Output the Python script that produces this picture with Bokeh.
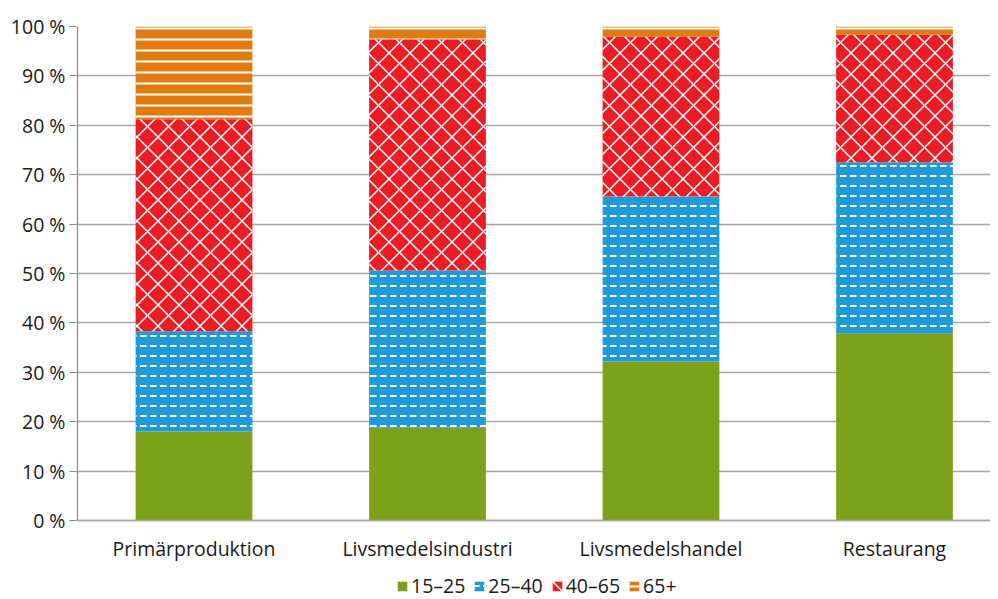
from bokeh.plotting import figure
from bokeh.models import ColumnDataSource, Range1d, FixedTicker, Legend, LegendItem, Span
from bokeh.core.properties import value
from bokeh.embed import file_html
from bokeh.resources import INLINE
import numpy as np

categories = ["Primärproduktion", "Livsmedelsindustri", "Livsmedelshandel", "Restaurang"]
series_names = ["15–25", "25–40", "40–65", "65+"]
v_15_25 = [18.0, 18.8, 32.2, 37.9]
v_25_40 = [20.3, 31.8, 33.4, 34.6]
v_40_65 = [42.9, 46.8, 32.3, 25.9]
v_65p = [18.8, 2.6, 2.1, 1.6]
y_ticks = [0, 10, 20, 30, 40, 50, 60, 70, 80, 90, 100]

colors = ["#7da11a", "#1f9bd9", "#ec1c24", "#e07b10"]
hatches = [None, "horizontal_dash", "diagonal_cross", "horizontal_line"]
hatch_scales = [12, 10, 21, 11]
hatch_weights = [1, 2, 1.5, 2]

FONT = "Open Sans"
FS = "19.5px"
TXT = "#1a1a1a"

x = list(range(len(categories)))
vals = np.array([v_15_25, v_25_40, v_40_65, v_65p])
tops = np.cumsum(vals, axis=0)
bottoms = tops - vals

W, H = 990, 599
px_per_unit = (520 - 26) / 100.0
y_min = -(H - 520) / px_per_unit

p = figure(width=W, height=H, output_backend="svg", toolbar_location=None,
           x_range=Range1d(-0.5032, 3.4111), y_range=Range1d(y_min, 100),
           min_border_left=76, min_border_top=26, min_border_right=0, min_border_bottom=0,
           x_axis_location=None)
p.outline_line_color = None
p.background_fill_color = "white"

renderers = []
for i in range(4):
    src = ColumnDataSource(dict(x=x, bottom=bottoms[i], top=tops[i]))
    kw = dict(fill_color=colors[i], line_color=None)
    if hatches[i]:
        kw.update(hatch_pattern=hatches[i], hatch_color="white", hatch_scale=hatch_scales[i],
                  hatch_weight=hatch_weights[i])
    r = p.vbar(x="x", bottom="bottom", top="top", width=0.5, source=src, **kw)
    renderers.append(r)

p.xgrid.grid_line_color = None
p.ygrid.grid_line_color = "#a6a6a6"
p.ygrid.grid_line_width = 1.3
p.ygrid.ticker = FixedTicker(ticks=y_ticks)

# y axis line only from 0 to 100
p.segment(x0=[-0.499], y0=[0], x1=[-0.499], y1=[100], line_color="#868686", line_width=1.2)
# x axis baseline
p.add_layout(Span(location=0, dimension="width", line_color="#a6a6a6", line_width=1.3))

p.yaxis.ticker = FixedTicker(ticks=y_ticks)
p.yaxis.major_label_overrides = {t: f"{t} %" for t in y_ticks}
p.yaxis.axis_line_color = None
p.yaxis.major_tick_line_color = "#868686"
p.yaxis.major_tick_out = 7
p.yaxis.major_tick_in = 0
p.yaxis.minor_tick_line_color = None
p.yaxis.major_label_text_font = FONT
p.yaxis.major_label_text_font_size = FS
p.yaxis.major_label_text_color = TXT
p.yaxis.major_label_standoff = 4

# category labels
p.text(x=x, y=[0] * len(x), text=categories, y_offset=28, text_align="center",
       text_baseline="middle", text_font=value(FONT), text_font_size=FS, text_color=TXT)

items = [LegendItem(label=series_names[i], renderers=[renderers[i]]) for i in range(4)]
legend = Legend(items=items, orientation="horizontal", location=(320, 0),
                label_text_font=FONT, label_text_font_size=FS, label_text_color=TXT,
                glyph_width=12, glyph_height=12, label_standoff=3, spacing=8,
                padding=0, margin=0, border_line_color=None, background_fill_alpha=0,
                label_height=16)
p.add_layout(legend, "center")

open("out.html", "w").write(file_html(p, INLINE))
